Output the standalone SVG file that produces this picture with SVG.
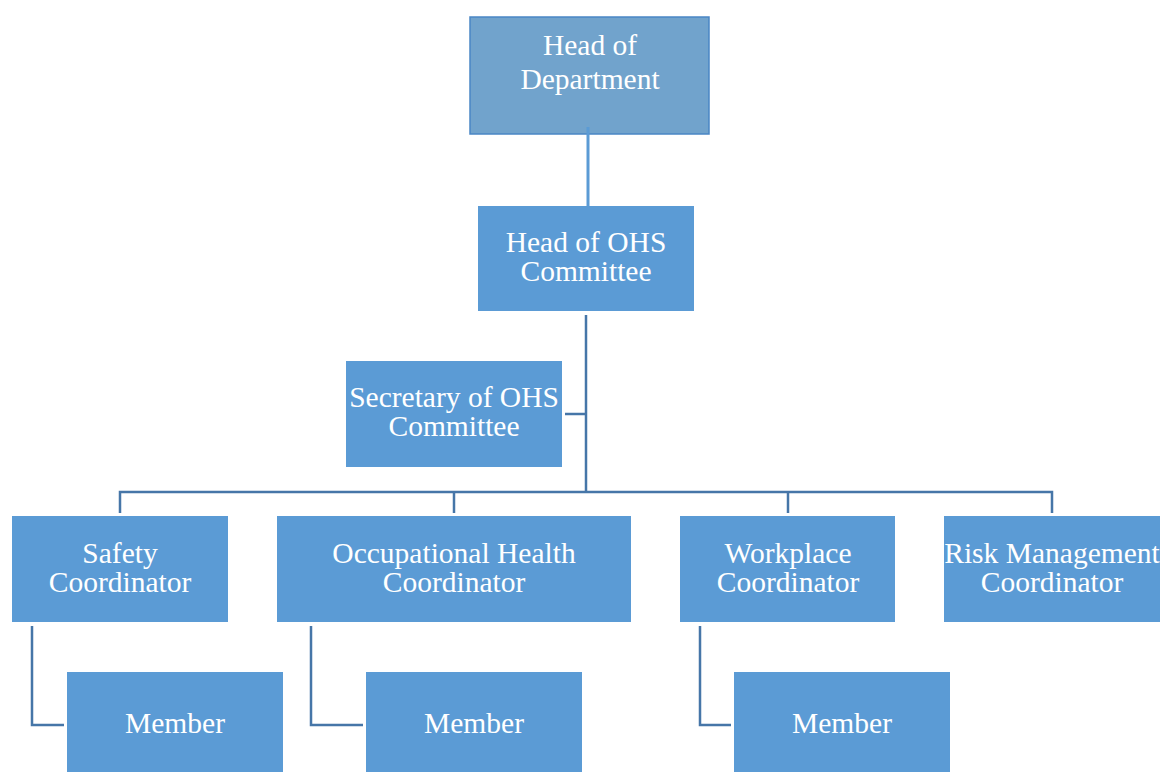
<svg xmlns="http://www.w3.org/2000/svg" width="1162" height="772" viewBox="0 0 1162 772">
<style>
.box{fill:#5B9BD5;}
.top{fill:#71A3CC;stroke:#4A86C5;stroke-width:1.5;}
.t{font-family:"Liberation Serif","Times New Roman",serif;font-size:29.5px;fill:#FFFFFF;text-anchor:middle;}
.c{fill:none;stroke:#4676A8;stroke-width:2.5;}
.cl{fill:none;stroke:#5B9BD5;stroke-width:3;}
</style>
<rect width="1162" height="772" fill="#FFFFFF"/>
<g id="head-of-department">
<rect class="top" x="470" y="17" width="239" height="117"/>
<text class="t" x="590" y="55">Head of</text>
<text class="t" x="590" y="89">Department</text>
</g>
<g id="head-of-ohs">
<rect class="box" x="478" y="206" width="216" height="105"/>
<text class="t" x="586" y="252">Head of OHS</text>
<text class="t" x="586" y="281">Committee</text>
</g>
<g id="secretary">
<rect class="box" x="346" y="361" width="216" height="106"/>
<text class="t" x="454" y="407">Secretary of OHS</text>
<text class="t" x="454" y="436">Committee</text>
</g>
<g id="safety-coordinator">
<rect class="box" x="12" y="516" width="216" height="106"/>
<text class="t" x="120" y="563">Safety</text>
<text class="t" x="120" y="592">Coordinator</text>
</g>
<g id="occupational-health-coordinator">
<rect class="box" x="277" y="516" width="354" height="106"/>
<text class="t" x="454" y="563">Occupational Health</text>
<text class="t" x="454" y="592">Coordinator</text>
</g>
<g id="workplace-coordinator">
<rect class="box" x="680" y="516" width="215" height="106"/>
<text class="t" x="788" y="563">Workplace</text>
<text class="t" x="788" y="592">Coordinator</text>
</g>
<g id="risk-management-coordinator">
<rect class="box" x="944" y="516" width="216" height="106"/>
<text class="t" x="1052" y="563">Risk Management</text>
<text class="t" x="1052" y="592">Coordinator</text>
</g>
<g id="member-1">
<rect class="box" x="67" y="672" width="216" height="100"/>
<text class="t" x="175" y="733">Member</text>
</g>
<g id="member-2">
<rect class="box" x="366" y="672" width="216" height="100"/>
<text class="t" x="474" y="733">Member</text>
</g>
<g id="member-3">
<rect class="box" x="734" y="672" width="216" height="100"/>
<text class="t" x="842" y="733">Member</text>
</g>
<g id="connectors">
<path class="cl" d="M588 127V206"/>
<path class="c" d="M586 315V492"/>
<path class="c" d="M565 414H586"/>
<path class="c" d="M120 513V492H1052V513"/>
<path class="c" d="M454 492V513"/>
<path class="c" d="M788 492V513"/>
<path class="c" d="M32 626V725H64"/>
<path class="c" d="M311 626V725H363"/>
<path class="c" d="M700 626V725H731"/>
</g>
</svg>
